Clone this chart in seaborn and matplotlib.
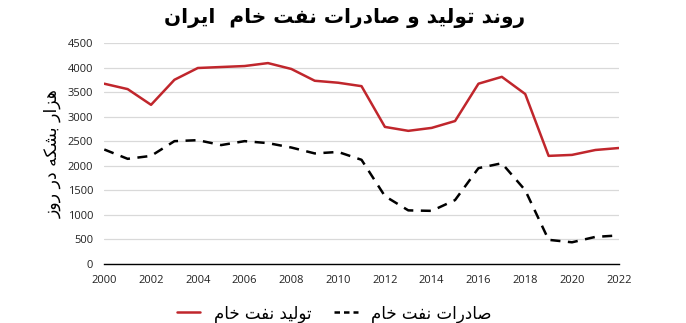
import matplotlib
matplotlib.use("Agg")
import matplotlib.pyplot as plt
import seaborn as sns
import pandas as pd

years = list(range(2000, 2023))
production = [3670, 3560, 3240, 3750, 3990, 4010, 4030, 4090, 3970, 3730, 3690, 3620,
              2790, 2710, 2770, 2910, 3670, 3810, 3460, 2200, 2220, 2320, 2360]
exports = [2330, 2140, 2200, 2500, 2520, 2420, 2500, 2460, 2370, 2250, 2280, 2120,
           1380, 1090, 1080, 1300, 1950, 2050, 1500, 490, 440, 550, 580]
title_text = "روند تولید و صادرات نفت خام  ایران"
ylabel_text = "هزار بشکه در روز"
label_prod = "تولید نفت خام"
label_exp = "صادرات نفت خام"
yticks = list(range(0, 4501, 500))
xticks = list(range(2000, 2023, 2))

# Minimal Arabic/Persian shaping (isolated, final, initial, medial)
FORMS = {
    'ا': ('\uFE8D', '\uFE8E', None, None),
    'ب': ('\uFE8F', '\uFE90', '\uFE91', '\uFE92'),
    'ت': ('\uFE95', '\uFE96', '\uFE97', '\uFE98'),
    'خ': ('\uFEA5', '\uFEA6', '\uFEA7', '\uFEA8'),
    'د': ('\uFEA9', '\uFEAA', None, None),
    'ر': ('\uFEAD', '\uFEAE', None, None),
    'ز': ('\uFEAF', '\uFEB0', None, None),
    'ش': ('\uFEB5', '\uFEB6', '\uFEB7', '\uFEB8'),
    'ص': ('\uFEB9', '\uFEBA', '\uFEBB', '\uFEBC'),
    'ف': ('\uFED1', '\uFED2', '\uFED3', '\uFED4'),
    'ل': ('\uFEDD', '\uFEDE', '\uFEDF', '\uFEE0'),
    'م': ('\uFEE1', '\uFEE2', '\uFEE3', '\uFEE4'),
    'ن': ('\uFEE5', '\uFEE6', '\uFEE7', '\uFEE8'),
    'ه': ('\uFEE9', '\uFEEA', '\uFEEB', '\uFEEC'),
    'و': ('\uFEED', '\uFEEE', None, None),
    'ی': ('\uFBFC', '\uFBFD', '\uFBFE', '\uFBFF'),
    'ک': ('\uFB8E', '\uFB8F', '\uFB90', '\uFB91'),
}


def shape(s):
    out = []
    for i, ch in enumerate(s):
        if ch not in FORMS:
            out.append(ch)
            continue
        prev = s[i - 1] if i > 0 else None
        nxt = s[i + 1] if i + 1 < len(s) else None
        join_prev = prev in FORMS and FORMS[prev][2] is not None
        join_next = FORMS[ch][2] is not None and nxt in FORMS
        iso, fin, ini, med = FORMS[ch]
        if join_prev and join_next:
            g = med
        elif join_prev:
            g = fin
        elif join_next:
            g = ini
        else:
            g = iso
        out.append(g)
    return "".join(out)[::-1]


df = pd.DataFrame({"year": years, "prod": production, "exp": exports})

sns.set_style("white")
plt.rcParams["font.family"] = ["DejaVu Sans"]
plt.rcParams["text.color"] = "black"
plt.rcParams["axes.labelcolor"] = "black"

fig = plt.figure(figsize=(6.86, 3.23), dpi=100)
ax = fig.add_axes([0.152, 0.183, 0.750, 0.684])

sns.lineplot(data=df, x="year", y="prod", ax=ax, color="#C0262C", linewidth=1.8,
             label=shape(label_prod))
sns.lineplot(data=df, x="year", y="exp", ax=ax, color="black", linewidth=1.8,
             label=shape(label_exp))
ax.lines[1].set_dashes([4, 3])

ax.set_xlim(2000, 2022)
ax.set_ylim(0, 4500)
ax.set_xticks(xticks)
ax.set_yticks(yticks)
ax.set_xticklabels([str(x) for x in xticks], fontsize=8, family="Open Sans", color="#222222")
ax.set_yticklabels([str(y) for y in yticks], fontsize=8, family="Open Sans", color="#222222")
ax.tick_params(axis="both", length=0, pad=8)
ax.grid(axis="y", color="#D9D9D9", linewidth=0.9)
ax.set_axisbelow(True)
for sp in ["top", "right", "left"]:
    ax.spines[sp].set_visible(False)
ax.spines["bottom"].set_color("black")
ax.spines["bottom"].set_linewidth(1.0)
ax.set_xlabel("")
ax.set_ylabel(shape(ylabel_text), fontsize=12.5, labelpad=4)

fig.text(0.503, 0.945, shape(title_text), ha="center", va="center",
         fontsize=14.5, fontweight="bold")

leg = ax.legend(loc="upper center", bbox_to_anchor=(0.447, -0.115), ncol=2, frameon=False,
                fontsize=12, handlelength=1.4, columnspacing=1.4, handletextpad=0.8)
leg.get_lines()[1].set_dashes([2.2, 1.6])

fig.savefig("out.png", dpi=100)
